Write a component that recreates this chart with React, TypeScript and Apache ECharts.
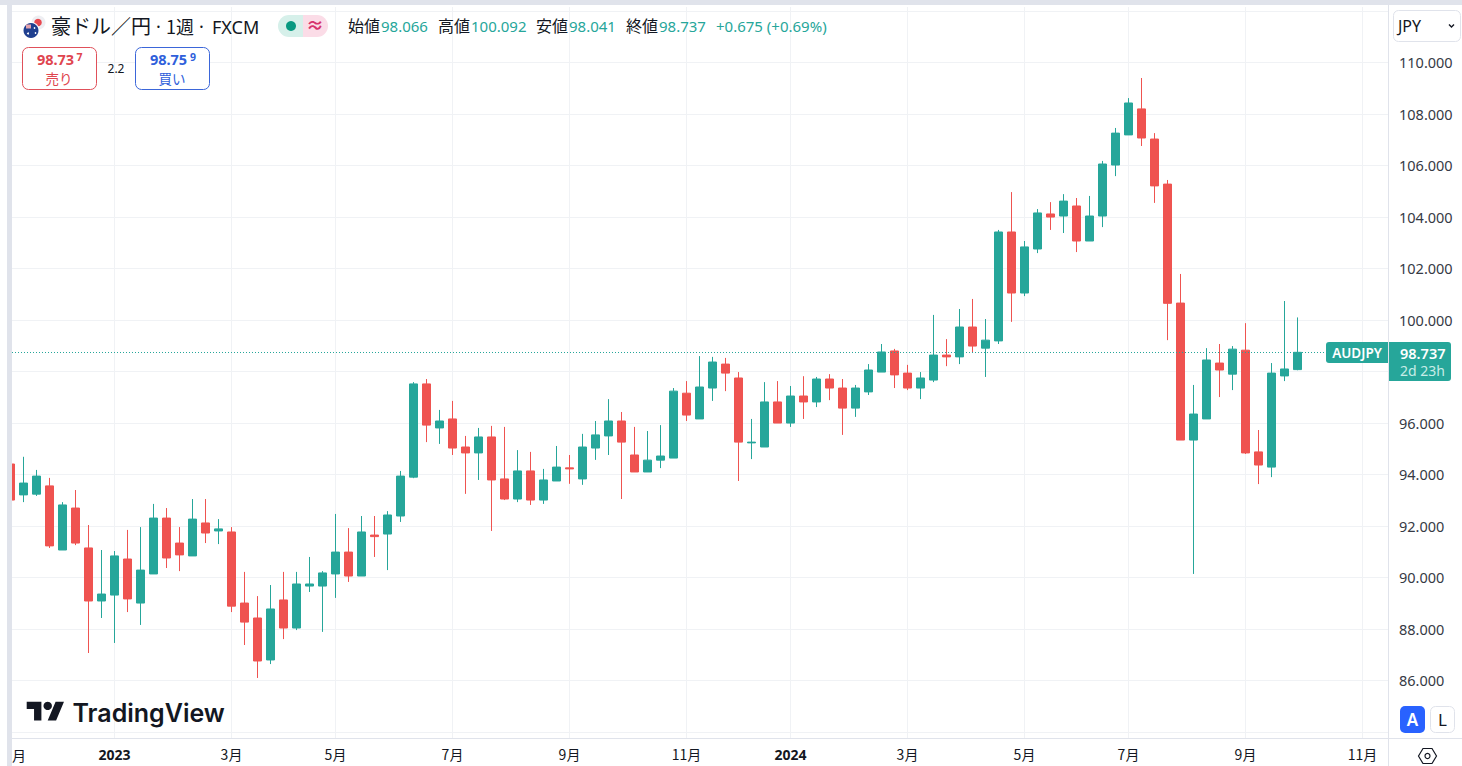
import React, { useEffect, useRef } from "react";
import * as echarts from "echarts";

const opens = [94.40,93.20,93.23,93.55,91.06,92.69,91.14,89.08,89.31,90.71,89.00,90.13,92.30,91.33,90.83,92.11,91.80,91.76,89.00,88.42,86.79,89.12,88.03,89.66,89.66,90.13,90.98,90.05,91.64,91.68,92.38,93.89,97.51,95.80,96.15,95.06,94.83,95.45,93.82,93.04,94.13,93.00,93.74,94.25,93.82,95.02,95.49,96.07,94.75,94.09,94.55,94.63,97.15,96.15,97.35,98.28,97.74,95.22,95.06,96.81,95.99,97.04,96.81,97.70,97.35,96.57,97.20,97.97,98.79,97.93,97.35,97.66,98.63,98.56,99.72,98.90,99.18,103.41,101.04,102.75,104.11,104.03,104.42,103.06,104.03,106.01,107.18,108.19,107.02,105.27,100.65,95.33,96.15,98.32,97.89,98.82,94.87,94.28,97.82,98.066];
const closes = [93.00,93.66,93.93,91.22,92.81,91.33,89.08,89.35,90.83,89.16,90.28,92.30,90.75,90.87,92.26,91.72,91.88,88.88,88.26,86.75,88.77,88.03,89.74,89.74,90.17,90.98,90.05,91.76,91.58,92.42,93.93,97.51,95.91,96.07,95.02,94.83,95.45,93.78,93.04,94.13,93.00,93.78,94.28,94.21,95.06,95.53,96.07,95.25,94.09,94.55,94.71,97.23,96.30,97.39,98.36,97.93,95.25,95.25,96.81,95.99,97.04,96.81,97.70,97.35,96.57,97.35,98.05,98.75,97.86,97.35,97.74,98.63,98.56,99.72,98.98,99.21,103.41,101.04,102.83,104.15,103.99,104.61,103.06,104.03,106.05,107.25,108.42,107.06,105.20,100.64,95.33,96.34,98.44,98.05,98.86,94.83,94.36,97.93,98.09,98.737];
const lows = [93.00,92.92,93.16,91.14,91.06,91.25,87.06,88.42,87.45,88.65,88.15,90.13,90.36,90.24,90.83,91.33,91.29,88.65,87.37,86.09,86.63,87.60,87.95,89.43,87.88,89.20,89.82,90.05,90.79,90.28,92.15,93.85,95.25,95.18,94.75,93.24,93.78,91.80,93.00,92.92,92.81,92.85,93.74,93.63,93.59,94.56,94.75,93.04,94.09,94.09,94.24,94.63,96.07,96.15,96.85,97.23,93.74,94.59,95.06,95.99,95.84,96.15,96.61,96.88,95.53,96.23,97.08,97.97,97.35,97.27,96.92,97.58,98.20,98.28,98.71,97.78,99.06,99.92,100.92,102.59,103.49,103.37,102.63,103.06,103.60,105.58,107.18,106.75,104.54,99.21,95.33,90.13,96.15,97.00,97.27,94.79,93.62,93.89,97.62,98.041];
const highs = [94.40,94.68,94.17,93.86,92.92,93.39,92.03,91.06,91.02,91.84,91.95,92.85,92.69,91.95,93.04,93.04,92.26,91.95,90.21,89.27,89.70,90.21,90.21,90.79,90.24,92.46,91.91,92.38,92.38,92.57,94.13,97.58,97.70,96.50,96.85,95.49,95.80,95.88,95.84,94.94,94.87,94.21,95.10,94.75,95.57,96.07,96.92,96.42,95.84,95.68,95.91,97.35,97.62,98.59,98.56,98.52,97.97,96.15,97.58,97.62,97.43,97.81,97.78,97.89,97.70,97.47,98.28,99.06,98.87,98.25,97.97,100.19,99.25,100.42,100.81,100.03,103.49,104.96,103.06,104.30,104.57,104.88,104.73,104.81,106.17,107.45,108.61,109.39,107.25,105.43,101.78,97.47,98.90,99.06,98.98,99.87,95.72,98.32,100.73,100.092];

const timeTickIndex = [8, 17, 25, 34, 43, 52, 60, 69, 78, 86, 95, 104];
const timeTickLabels = ["2023", "3月", "5月", "7月", "9月", "11月", "2024", "3月", "5月", "7月", "9月", "11月"];
const priceGrid = [84, 86, 88, 90, 92, 94, 96, 98, 100, 102, 104, 106, 108, 110, 112];
const priceLabels = [86, 88, 90, 92, 94, 96, 98, 100, 102, 104, 106, 108, 110];
const lastPrice = 98.737;

const UP = "#26a69a";
const DOWN = "#ef5350";
const GRID = "#f0f2f5";
const EDGE = "#e0e3eb";
const INK = "#131722";
const CJK = '"Noto Sans CJK JP", "Noto Sans", sans-serif';
const SANS = '"Noto Sans", "Noto Sans CJK JP", sans-serif';

echarts.graphic.registerShape(
  "tvMark",
  echarts.graphic.extendPath("M14 22H7V11H0V4h14v18zM28 22h-8l7.5-18h8L28 22z", {})
);

const txt = (text: string, x: number, y: number, fontSize: number, fill: string, extra: any = {}) => ({
  type: "text",
  x,
  y,
  z: 60,
  silent: true,
  style: {
    text,
    fontSize,
    fill,
    fontFamily: extra.fontFamily || SANS,
    fontWeight: extra.fontWeight || "normal",
    textAlign: extra.align || "left",
    textVerticalAlign: "middle",
  },
});

const box = (x: number, y: number, width: number, height: number, fill: string, stroke: string | null, r: any, z = 55) => ({
  type: "rect",
  z,
  silent: true,
  shape: { x, y, width, height, r },
  style: { fill, stroke: stroke || "none", lineWidth: stroke ? 1 : 0 },
});

const rule = (x1: number, y1: number, x2: number, y2: number) => ({
  type: "line",
  z: 56,
  silent: true,
  shape: { x1, y1, x2, y2 },
  style: { stroke: EDGE, lineWidth: 1 },
});

function overlays() {
  return [
    // frame
    rule(1388.5, 5, 1388.5, 766),
    rule(12, 738.5, 1462, 738.5),
    txt("月", 12, 755, 14, INK, { fontFamily: CJK }),
    box(0, 0, 7, 766, "#ffffff", null, 0, 57),
    box(7, 0, 5, 766, EDGE, null, 0, 57),
    box(0, 0, 1462, 5, EDGE, null, 0, 57),

    // symbol logo
    { type: "circle", z: 58, silent: true, shape: { cx: 38.5, cy: 22.5, r: 7 }, style: { fill: "#eeeef2" } },
    { type: "circle", z: 59, silent: true, shape: { cx: 38, cy: 22.5, r: 3.8 }, style: { fill: "#e8484f" } },
    { type: "circle", z: 59, silent: true, shape: { cx: 31, cy: 30.5, r: 8.5 }, style: { fill: "#ffffff" } },
    { type: "circle", z: 59, silent: true, shape: { cx: 31, cy: 30.5, r: 7.5 }, style: { fill: "#1f3f8f" } },
    { type: "rect", z: 59, silent: true, shape: { x: 26, y: 24.5, width: 5, height: 4 }, style: { fill: "#e4a3ad" } },
    { type: "circle", z: 59, silent: true, shape: { cx: 28, cy: 33.5, r: 1 }, style: { fill: "#ffffff" } },
    { type: "circle", z: 59, silent: true, shape: { cx: 34.5, cy: 28, r: 0.8 }, style: { fill: "#ffffff" } },
    { type: "circle", z: 59, silent: true, shape: { cx: 35.5, cy: 33, r: 0.8 }, style: { fill: "#ffffff" } },

    // title
    txt("豪ドル／円", 51, 25.5, 20, INK, { fontFamily: CJK }),
    txt("·", 156, 26, 18, INK),
    txt("1週", 166, 25.5, 18, INK, { fontFamily: CJK }),
    txt("·", 199, 26, 18, INK),
    txt("FXCM", 212, 27, 18, INK),

    // market status pill
    box(278, 15, 25, 22, "#d6f0ea", null, [11, 0, 0, 11]),
    box(303, 15, 25, 22, "#fbdce7", null, [0, 11, 11, 0]),
    { type: "circle", z: 60, silent: true, shape: { cx: 291, cy: 26, r: 5 }, style: { fill: "#089981" } },
    txt("≈", 315, 25, 18, "#d6336c", { align: "center", fontWeight: "bold" }),

    // OHLC
    txt("始値", 348, 25, 16, INK, { fontFamily: CJK }),
    txt("98.066", 381, 26, 15, UP),
    txt("高値", 438, 25, 16, INK, { fontFamily: CJK }),
    txt("100.092", 471, 26, 15, UP),
    txt("安値", 536, 25, 16, INK, { fontFamily: CJK }),
    txt("98.041", 569, 26, 15, UP),
    txt("終値", 626, 25, 16, INK, { fontFamily: CJK }),
    txt("98.737", 659, 26, 15, UP),
    txt("+0.675 (+0.69%)", 716, 26, 15, UP),

    // sell / buy
    box(22.5, 47.5, 74, 42, "#ffffff", "#e0505a", 6),
    txt("98.73", 55.5, 59, 14.5, "#e0454f", { align: "center", fontWeight: "bold" }),
    txt("7", 79.5, 57, 10.5, "#e0454f", { align: "center", fontWeight: "bold" }),
    txt("売り", 59, 78, 13.5, "#e0454f", { align: "center", fontFamily: CJK }),
    txt("2.2", 116, 68, 12, INK, { align: "center" }),
    box(135.5, 47.5, 74, 42, "#ffffff", "#3b66d9", 6),
    txt("98.75", 168.5, 59, 14.5, "#2f5fdb", { align: "center", fontWeight: "bold" }),
    txt("9", 193, 57, 10.5, "#2f5fdb", { align: "center", fontWeight: "bold" }),
    txt("買い", 172, 78, 13.5, "#2f5fdb", { align: "center", fontFamily: CJK }),

    // currency select
    box(1393.5, 10.5, 67, 31, "#ffffff", EDGE, 5),
    txt("JPY", 1398, 26, 16, INK),
    { type: "polyline", z: 60, silent: true, shape: { points: [[1449, 24.5], [1451.5, 27], [1454, 24.5]] }, style: { fill: "none", stroke: INK, lineWidth: 1.4 } },

    // price tags
    box(1326, 342, 62, 21, UP, null, [3, 0, 0, 3]),
    txt("AUDJPY", 1357, 352.5, 13.5, "#ffffff", { align: "center", fontWeight: "600" }),
    box(1389, 342, 62, 39, UP, null, [0, 3, 3, 0]),
    txt("98.737", 1400, 352.5, 14.5, "#ffffff", { fontWeight: "600" }),
    txt("2d 23h", 1400, 370.5, 14, "#c8ece7"),

    // logo
    { type: "tvMark", z: 60, silent: true, x: 26.7, y: 697.5, scaleX: 1.05, scaleY: 1.05, style: { fill: INK } },
    { type: "circle", z: 60, silent: true, shape: { cx: 47.7, cy: 705.9, r: 4.2 }, style: { fill: INK } },
    txt("TradingView", 72.5, 712.5, 25, INK, { fontFamily: "Inter, sans-serif", fontWeight: "600" }),

    // scale buttons
    box(1400, 706, 25, 27, "#2962ff", null, 5),
    txt("A", 1412.5, 719.5, 17, "#ffffff", { align: "center", fontWeight: "600" }),
    box(1430.5, 706.5, 24, 26, "#ffffff", EDGE, 5),
    txt("L", 1442.5, 719.5, 17, INK, { align: "center" }),

    // settings hexagon
    { type: "polygon", z: 60, silent: true, shape: { points: [[1418.5, 756], [1423, 748.5], [1432, 748.5], [1436.5, 756], [1432, 763.5], [1423, 763.5]] }, style: { fill: "none", stroke: INK, lineWidth: 1.2 } },
    { type: "circle", z: 60, silent: true, shape: { cx: 1427.5, cy: 756, r: 2.5 }, style: { fill: "none", stroke: INK, lineWidth: 1.2 } },
  ];
}

export default function App() {
  const ref = useRef<HTMLDivElement>(null);

  useEffect(() => {
    document.body.style.margin = "0";
    document.body.style.overflow = "hidden";
    const chart = echarts.init(ref.current!, undefined, { renderer: "svg" });
    chart.setOption({
      animation: false,
      backgroundColor: "#ffffff",
      grid: { left: 12, right: 74, top: 7, bottom: 28, containLabel: false },
      xAxis: {
        type: "value",
        min: (12 - 10.5) / 13,
        max: (1388 - 10.5) / 13,
        scale: true,
        axisLine: { show: false },
        axisTick: { show: false, customValues: timeTickIndex },
        splitLine: { show: true, lineStyle: { color: GRID, width: 1 } },
        axisLabel: {
          show: true,
          customValues: timeTickIndex,
          margin: 9,
          fontSize: 14,
          color: INK,
          fontFamily: CJK,
          formatter: (v: number) => {
            const s = timeTickLabels[timeTickIndex.indexOf(v)] || "";
            return /^\d{4}$/.test(s) ? `{b|${s}}` : s;
          },
          rich: { b: { fontSize: 14, fontWeight: "bold", color: INK, fontFamily: SANS } },
        },
      },
      yAxis: {
        type: "value",
        position: "right",
        min: 86 - 57.7 / 25.75,
        max: 86 + 673.3 / 25.75,
        axisLine: { show: false },
        axisTick: { show: false, customValues: priceGrid },
        splitLine: { show: true, lineStyle: { color: GRID, width: 1 } },
        axisLabel: {
          show: true,
          customValues: priceLabels,
          margin: 11,
          fontSize: 14.5,
          color: "#363a45",
          fontFamily: SANS,
          formatter: (v: number) => v.toFixed(3),
        },
      },
      series: [
        {
          type: "candlestick",
          barWidth: 8,
          clip: true,
          encode: { x: 0, y: [1, 2, 3, 4] },
          itemStyle: {
            color: UP,
            color0: DOWN,
            borderColor: UP,
            borderColor0: DOWN,
            borderColorDoji: UP,
            borderWidth: 1,
          },
          data: opens.map((o, i) => [i, o, closes[i], lows[i], highs[i]]),
          markLine: {
            silent: true,
            symbol: "none",
            animation: false,
            label: { show: false },
            lineStyle: { color: UP, type: [1, 2], width: 1 },
            data: [{ yAxis: lastPrice }],
          },
        },
      ],
      graphic: { elements: overlays() },
    });
    return () => chart.dispose();
  }, []);

  return <div ref={ref} style={{ position: "absolute", left: 0, top: 0, width: 1462, height: 766 }} />;
}
